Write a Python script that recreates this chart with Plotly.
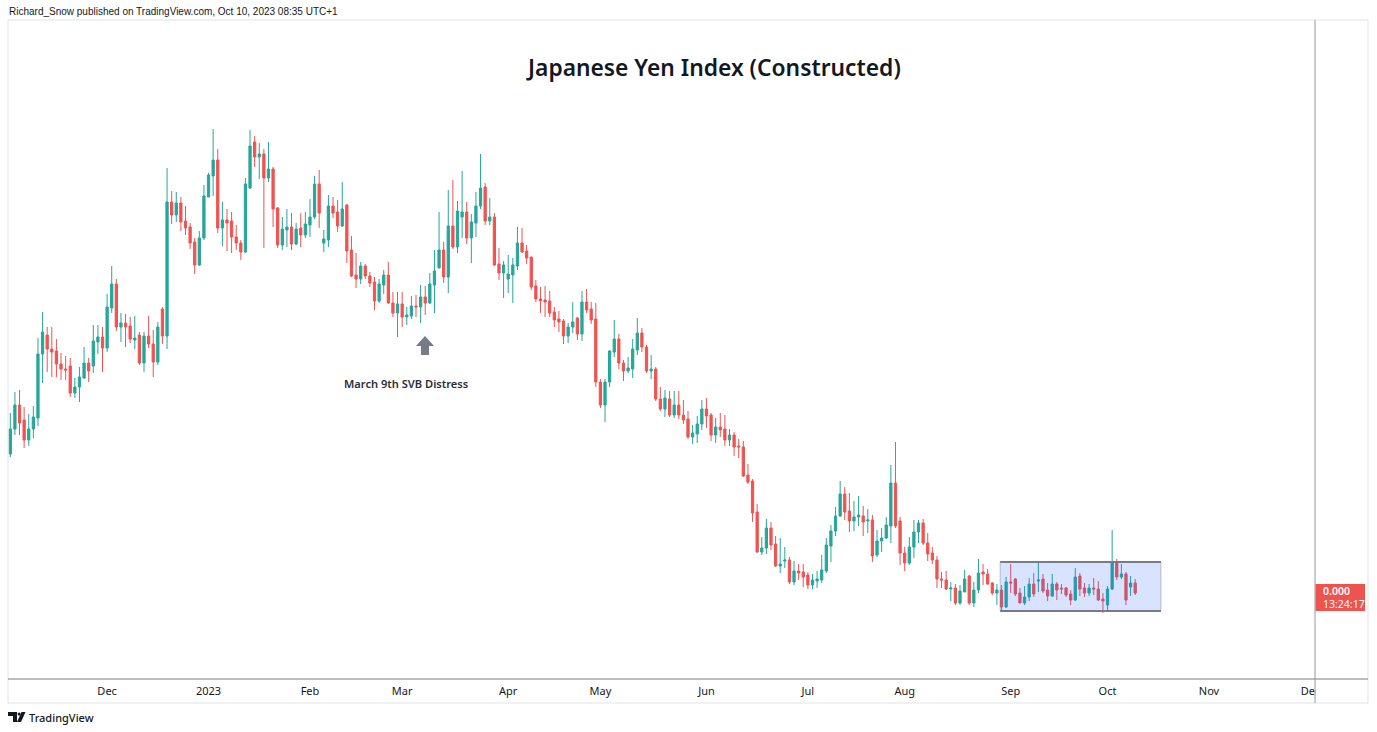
import plotly.graph_objects as go
import pandas as pd

# ---- data (daily candles, constructed JPY index, arbitrary units) ----
open_ = [246,271,295,280,260,271,282,346,365,351,349,336,331,334,307,313,322,337,334,358,
         363,352,392,416,373,377,374,360,365,337,364,356,338,391,364,498,485,497,479,473,
         458,435,462,503,524,540,472,480,479,463,457,448,512,558,543,546,522,531,492,455,
         470,473,456,472,465,475,483,516,457,460,494,488,474,495,450,425,421,434,424,418,
         399,415,425,397,387,396,383,384,394,393,403,397,415,432,450,423,474,453,483,488,
         462,477,494,513,479,483,436,427,421,425,434,457,449,443,414,401,400,399,388,381,
         379,364,373,382,366,398,391,381,318,295,318,348,361,337,329,331,350,367,353,329,
         331,301,291,301,285,295,285,281,263,266,276,291,285,265,273,271,260,265,254,253,
         225,219,188,148,152,172,156,134,139,140,118,129,128,125,115,119,120,129,154,169,
         184,206,189,179,183,184,179,180,145,159,162,174,217,179,147,137,153,168,177,157,
         147,140,121,120,111,112,97,108,124,97,110,128,126,117,107,110,93,118,121,107,
         97,103,116,119,121,110,104,116,112,112,106,100,124,112,107,112,111,101,95,111,
         137,123,126,113,117]
high_ = [287,308,310,293,286,294,362,388,373,373,361,347,344,342,322,333,353,342,375,375,
         373,406,434,421,387,386,383,384,368,368,384,370,378,393,532,509,508,503,494,477,
         462,469,515,527,571,551,498,491,488,475,460,522,570,564,557,551,558,533,493,483,
         491,487,477,487,488,501,524,530,470,505,503,500,518,496,464,447,438,436,428,423,
         421,430,438,408,408,408,393,404,405,415,414,427,450,488,458,510,520,499,529,498,
         486,508,546,517,502,487,452,439,445,442,473,472,455,443,420,413,414,409,393,389,
         381,377,398,383,409,411,398,397,321,321,350,380,366,340,343,361,382,372,355,345,
         333,313,310,309,309,309,300,289,275,284,300,302,287,282,287,285,271,268,261,259,
         236,221,196,163,181,178,164,162,153,143,139,136,136,128,126,129,145,162,175,193,
         219,213,207,199,204,194,191,185,170,172,183,235,258,183,153,163,180,180,181,167,
         153,144,128,129,118,116,115,130,125,118,141,136,131,118,116,115,123,136,122,112,
         114,122,127,137,126,117,126,118,116,113,110,132,127,117,116,122,119,107,114,170,
         141,136,128,124,121]
low_ = [243,265,265,252,254,262,274,317,328,323,323,320,320,303,302,298,321,318,327,346,
        328,348,387,369,358,353,357,351,335,328,352,323,335,356,351,476,478,469,465,451,
        426,434,460,503,504,467,454,449,447,450,440,447,511,533,521,452,518,473,452,450,
        453,450,455,453,462,463,481,472,448,453,482,468,473,437,423,412,416,421,413,390,
        397,406,396,383,363,373,375,381,383,377,385,396,387,432,417,407,451,447,462,456,
        437,463,491,475,475,434,420,402,407,397,430,447,436,410,398,387,383,383,373,368,
        356,357,367,360,359,387,376,313,292,278,313,343,331,319,327,322,345,348,327,321,
        299,289,283,283,282,281,276,261,256,257,270,272,259,257,263,254,254,244,242,223,
        216,178,147,145,146,150,133,127,132,116,115,120,113,111,111,112,117,127,138,164,
        183,180,168,169,174,164,167,138,143,148,161,157,172,135,129,135,142,157,155,139,
        136,112,112,110,99,95,95,108,95,93,107,115,115,105,95,88,92,107,104,97,
        95,99,103,108,107,99,103,100,106,103,95,99,104,103,104,105,99,87,88,110,
        120,121,95,104,105]
close_ = [271,295,277,260,271,283,346,368,351,348,336,331,330,307,313,323,337,329,359,363,
          352,393,416,373,377,373,361,362,337,364,356,338,373,364,498,485,497,478,472,457,
          435,462,504,525,540,472,480,477,463,457,448,516,554,543,546,522,531,491,455,471,
          473,456,471,465,476,483,516,487,461,494,487,474,491,449,424,421,434,424,417,399,
          416,425,397,387,396,383,385,394,393,403,397,416,429,450,423,474,453,489,488,462,
          478,494,512,479,483,435,427,435,426,435,457,448,442,413,401,399,398,387,380,378,
          364,373,378,366,398,390,380,318,295,318,349,361,337,329,332,351,367,353,329,331,
          301,291,302,285,295,285,280,263,267,276,291,284,265,273,270,260,265,253,253,224,
          218,187,148,152,172,155,134,136,140,118,129,127,123,115,120,121,130,155,169,184,
          206,188,179,183,185,178,180,144,159,162,175,217,174,147,137,153,168,177,157,146,
          140,121,120,111,112,97,109,121,97,110,127,126,116,107,110,93,118,117,106,97,
          103,116,106,120,109,104,116,110,111,105,100,123,111,107,112,111,100,99,111,137,
          123,126,100,117,107]

first_session = "2022-11-02"
dates = pd.bdate_range(first_session, periods=len(close_))

tick_dates = ["2022-12-01", "2023-01-02", "2023-02-01", "2023-03-01", "2023-04-03",
              "2023-05-01", "2023-06-01", "2023-07-03", "2023-08-01", "2023-09-01",
              "2023-10-02", "2023-11-01", "2023-12-01"]
tick_text = ["Dec", "2023", "Feb", "Mar", "Apr", "May", "Jun", "Jul", "Aug", "Sep",
             "Oct", "Nov", "Dec"]

range_box = {"start": "2023-08-29 17:00", "end": "2023-10-17 14:00", "top": 138, "bottom": 89}
last_label = "0.000"
countdown = "13:24:17"

title_text = "Japanese Yen Index (Constructed)"
note_text = "March 9th SVB Distress"
header_text = "Richard_Snow published on TradingView.com, Oct 10, 2023 08:35 UTC+1"

# ---- styling ----
UP = "#26a69a"
DOWN = "#ef5350"
W, H = 1377, 732
PL, PR, PT, PB = 8, 1315, 20, 679   # plot area in page pixels


def px(x):
    return (x - PL) / (PR - PL)


def py(y):
    return (PB - y) / (PB - PT)


fig = go.Figure()
fig.add_trace(go.Candlestick(
    x=dates, open=open_, high=high_, low=low_, close=close_,
    increasing=dict(line=dict(color=UP, width=1), fillcolor=UP),
    decreasing=dict(line=dict(color=DOWN, width=1), fillcolor=DOWN),
    whiskerwidth=0, showlegend=False, hoverinfo="skip",
))

shapes = []
# range rectangle
shapes.append(dict(type="rect", xref="x", yref="y",
                   x0=range_box["start"], x1=range_box["end"],
                   y0=range_box["bottom"], y1=range_box["top"],
                   fillcolor="rgba(41,98,255,0.18)",
                   line=dict(color="rgba(120,123,134,0.45)", width=1), layer="above"))
for yy in (range_box["top"], range_box["bottom"]):
    shapes.append(dict(type="line", xref="x", yref="y",
                       x0=range_box["start"], x1=range_box["end"], y0=yy, y1=yy,
                       line=dict(color="#787b86", width=2), layer="above"))

# cover part of the time scale under the price scale
shapes.append(dict(type="rect", xref="paper", yref="paper",
                   x0=px(1315.5), x1=px(1367.5), y0=py(702.5), y1=py(PB + 0.5),
                   fillcolor="white", line=dict(width=0), layer="above"))
# outer border
shapes.append(dict(type="rect", xref="paper", yref="paper",
                   x0=px(8), x1=px(1368), y0=py(703), y1=py(20),
                   line=dict(color="#e0e3eb", width=1), layer="above"))
# time axis line
shapes.append(dict(type="line", xref="paper", yref="paper",
                   x0=px(8), x1=px(1368), y0=py(679), y1=py(679),
                   line=dict(color="#787b86", width=1), layer="above"))
# price scale separator
shapes.append(dict(type="line", xref="paper", yref="paper",
                   x0=px(1315), x1=px(1315), y0=py(703), y1=py(20),
                   line=dict(color="#9598a1", width=1), layer="above"))
# last price label box
shapes.append(dict(type="rect", xref="paper", yref="paper",
                   x0=px(1315.5), x1=px(1365), y0=py(611), y1=py(584),
                   fillcolor=DOWN, line=dict(width=0), layer="above"))


def ppath(pts):
    s = "M " + " L ".join(f"{px(a):.5f},{py(b):.5f}" for a, b in pts) + " Z"
    return s


# up arrow marker
shapes.append(dict(type="path", xref="paper", yref="paper",
                   path=ppath([(425, 336), (434, 346), (429, 346), (429, 355),
                               (421, 355), (421, 346), (416, 346)]),
                   fillcolor="#787b86", line=dict(width=0), layer="above"))
# TradingView logo (simplified)
shapes.append(dict(type="path", xref="paper", yref="paper",
                   path=ppath([(8, 712), (17, 712), (17, 722), (13, 722), (13, 716), (8, 716)]),
                   fillcolor="#131722", line=dict(width=0), layer="above"))
shapes.append(dict(type="circle", xref="paper", yref="paper",
                   x0=px(17.6), x1=px(20.6), y0=py(715.5), y1=py(712.5),
                   fillcolor="#131722", line=dict(width=0), layer="above"))
shapes.append(dict(type="path", xref="paper", yref="paper",
                   path=ppath([(21.5, 712), (25.5, 712), (21, 722), (17, 722)]),
                   fillcolor="#131722", line=dict(width=0), layer="above"))

annotations = [
    dict(text=title_text, xref="paper", yref="paper", x=px(713), y=py(67),
         xanchor="center", yanchor="middle", showarrow=False,
         font=dict(family="Noto Sans", size=22.8, color="#131722", weight=600)),
    dict(text=note_text, xref="paper", yref="paper", x=px(406), y=py(383),
         xanchor="center", yanchor="middle", showarrow=False,
         font=dict(family="Noto Sans", size=11.1, color="#2a2e39", weight=600)),
    dict(text=header_text, xref="paper", yref="paper", x=px(7), y=py(11),
         xanchor="left", yanchor="middle", showarrow=False,
         font=dict(family="Liberation Sans", size=10, color="#131722")),
    dict(text="TradingView", xref="paper", yref="paper", x=px(27), y=py(717),
         xanchor="left", yanchor="middle", showarrow=False,
         font=dict(family="Noto Sans", size=11, color="#131722", weight=500)),
    dict(text=last_label, xref="paper", yref="paper", x=px(1321), y=py(591),
         xanchor="left", yanchor="middle", showarrow=False,
         font=dict(family="Noto Sans", size=10.5, color="white", weight=600)),
    dict(text=countdown, xref="paper", yref="paper", x=px(1321), y=py(604),
         xanchor="left", yanchor="middle", showarrow=False,
         font=dict(family="Noto Sans", size=10.5, color="white")),
]

fig.update_layout(
    width=W, height=H,
    margin=dict(l=PL, r=W - PR, t=PT, b=H - PB, pad=0),
    paper_bgcolor="white", plot_bgcolor="white",
    shapes=shapes, annotations=annotations,
    font=dict(family="Noto Sans", color="#131722"),
    xaxis=dict(
        type="date",
        rangebreaks=[dict(bounds=["sat", "mon"])],
        range=["2022-11-01 12:00", "2023-12-04 00:00"],
        tickmode="array", tickvals=tick_dates, ticktext=tick_text,
        ticks="outside", ticklen=2, tickcolor="rgba(0,0,0,0)",
        tickfont=dict(family="Noto Sans", size=11, color="#131722"),
        showgrid=False, zeroline=False, showline=False,
        rangeslider=dict(visible=False), fixedrange=True,
    ),
    yaxis=dict(
        range=[21, 680], showticklabels=False, showgrid=False,
        zeroline=False, showline=False, fixedrange=True, ticks="",
    ),
    hovermode=False,
)

fig.write_html("out.html", config={"displayModeBar": False},
               post_script="document.body.style.margin='0';document.body.style.overflow='hidden';")
